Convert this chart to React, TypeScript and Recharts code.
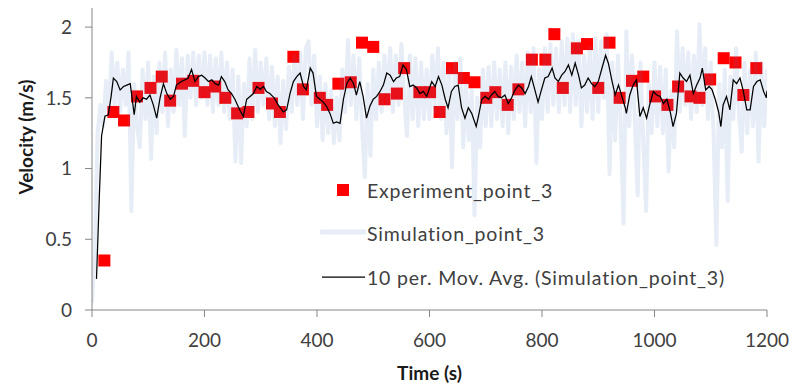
import React from "react";
import { ComposedChart, Line, Scatter, XAxis, YAxis, Legend } from "recharts";

// ---------- data ----------
const X_TICKS = [0, 200, 400, 600, 800, 1000, 1200];
const Y_TICKS = [0, 0.5, 1, 1.5, 2];

const SERIES_NAMES = [
  "Experiment_point_3",
  "Simulation_point_3",
  "10 per. Mov. Avg. (Simulation_point_3)",
];

// Experiment (red squares)
const EXP_TIME = [
  22, 38, 57, 80, 104, 124, 139, 160, 180, 200, 219, 237, 258, 278, 296, 320, 334, 358, 375, 405,
  418, 438, 460, 480, 500, 520, 542, 555, 582, 601, 618, 640, 661, 680, 701, 717, 739, 758, 782, 806,
  822, 837, 862, 880, 900, 920, 938, 960, 980, 1001, 1023, 1042, 1064, 1080, 1099, 1123, 1144, 1158, 1181,
];
const EXP_VEL = [
  0.35, 1.40, 1.34, 1.51, 1.57, 1.65, 1.48, 1.60, 1.62, 1.54, 1.58, 1.50, 1.39, 1.40, 1.57, 1.46, 1.40, 1.79, 1.56, 1.50,
  1.45, 1.60, 1.61, 1.89, 1.86, 1.49, 1.53, 1.71, 1.54, 1.54, 1.40, 1.71, 1.64, 1.61, 1.50, 1.54, 1.45, 1.56, 1.77, 1.77,
  1.95, 1.57, 1.85, 1.88, 1.57, 1.89, 1.50, 1.62, 1.65, 1.51, 1.45, 1.58, 1.51, 1.50, 1.63, 1.78, 1.75, 1.52, 1.71,
];

// Simulation (sampled every SIM_STEP seconds starting at 0)
const SIM_STEP = 5;
const SIM_VEL = [
  0.05, 0.40, 1.25, 1.45, 1.30, 1.62, 1.40, 1.82, 1.45, 1.75,
  1.40, 1.70, 1.45, 1.82, 0.70, 1.60, 1.30, 1.15, 1.70, 1.35,
  1.75, 1.07, 1.65, 1.25, 1.75, 1.40, 1.82, 1.30, 1.70, 1.40,
  1.84, 1.45, 1.78, 1.23, 1.80, 1.50, 1.82, 1.45, 1.80, 1.50,
  1.82, 1.45, 1.80, 1.40, 1.78, 1.45, 1.82, 1.40, 1.75, 1.35,
  1.70, 1.05, 1.65, 1.04, 1.60, 1.30, 1.78, 1.35, 1.84, 1.40,
  1.75, 1.45, 1.78, 1.35, 1.72, 1.30, 1.65, 1.18, 1.62, 1.28,
  1.72, 1.40, 1.80, 1.45, 1.82, 1.35, 1.85, 1.90, 1.45, 1.80,
  1.30, 1.65, 1.20, 1.60, 1.25, 1.55, 1.18, 1.50, 1.20, 1.70,
  1.40, 1.91, 1.45, 1.80, 1.35, 1.78, 1.30, 0.94, 1.60, 1.09,
  1.70, 1.35, 1.75, 1.40, 1.80, 1.45, 1.85, 1.40, 1.80, 1.45,
  1.88, 1.50, 1.23, 1.80, 1.35, 1.78, 1.30, 1.75, 1.35, 1.70,
  1.35, 1.80, 1.40, 1.85, 1.35, 1.75, 1.25, 1.70, 1.01, 1.75,
  1.35, 1.78, 1.15, 1.60, 1.20, 1.55, 0.67, 1.50, 1.15, 1.70,
  1.30, 1.72, 1.30, 1.75, 1.35, 1.70, 1.30, 1.75, 1.25, 1.72,
  1.35, 1.80, 1.40, 1.75, 1.30, 1.82, 1.40, 1.85, 1.04, 1.70,
  1.35, 1.85, 1.40, 1.88, 1.45, 1.85, 1.40, 1.90, 1.45, 1.92,
  1.40, 1.95, 1.45, 1.90, 1.30, 1.80, 1.40, 1.85, 1.35, 1.92,
  1.40, 1.90, 1.50, 1.95, 0.96, 1.75, 1.20, 1.80, 1.30, 0.61,
  1.97, 1.30, 1.80, 1.35, 0.81, 1.75, 1.20, 0.70, 1.60, 1.25,
  1.75, 1.30, 1.72, 1.25, 1.70, 0.98, 1.55, 1.15, 1.97, 1.40,
  1.85, 1.45, 1.82, 1.35, 1.80, 1.40, 2.02, 1.45, 1.85, 1.35,
  1.75, 1.25, 0.46, 1.60, 1.15, 1.70, 0.77, 1.65, 1.35, 1.85,
  1.40, 1.12, 1.75, 1.25, 1.70, 1.30, 1.82, 1.05, 1.75, 1.30,
  1.70,
];

// 10-period moving average (black line)
const MA_TIME = [
  8, 13, 17, 23, 29, 34, 38, 44, 50, 56, 62, 68, 75, 79, 85, 91, 97, 103, 109, 115,
  121, 127, 133, 139, 145, 150, 159, 165, 171, 177, 183, 189, 195, 201, 207, 213, 219, 225, 230, 236,
  242, 248, 254, 262, 269, 275, 281, 287, 293, 299, 305, 310, 316, 324, 331, 340, 346, 352, 358, 364,
  370, 376, 381, 388, 393, 399, 405, 411, 417, 423, 429, 435, 441, 447, 453, 459, 465, 470, 476, 482,
  488, 494, 500, 506, 512, 518, 524, 530, 536, 541, 547, 553, 559, 565, 571, 577, 583, 589, 595, 601,
  604, 610, 616, 622, 628, 633, 639, 645, 651, 657, 663, 669, 675, 683, 687, 693, 699, 705, 710, 716,
  722, 728, 734, 740, 746, 752, 758, 764, 770, 776, 781, 788, 793, 799, 805, 811, 818, 823, 829, 835,
  841, 847, 853, 859, 865, 870, 876, 882, 888, 894, 900, 906, 913, 918, 924, 930, 936, 942, 948, 950,
  956, 962, 968, 974, 980, 986, 992, 998, 1004, 1010, 1016, 1022, 1028, 1033, 1039, 1045, 1051, 1057, 1063, 1069,
  1075, 1081, 1085, 1091, 1097, 1102, 1108, 1114, 1118, 1122, 1128, 1134, 1140, 1146, 1152, 1158, 1164, 1170, 1176, 1182,
  1188, 1194, 1199, 1200,
];
const MA_VEL = [
  0.22, 0.80, 1.23, 1.37, 1.38, 1.51, 1.64, 1.615, 1.556, 1.58, 1.59, 1.60, 1.38, 1.51, 1.47, 1.50, 1.49, 1.52, 1.45, 1.356,
  1.50, 1.60, 1.53, 1.49, 1.51, 1.59, 1.615, 1.627, 1.64, 1.70, 1.615, 1.65, 1.66, 1.64, 1.615, 1.627, 1.60, 1.59, 1.65, 1.615,
  1.556, 1.53, 1.49, 1.42, 1.368, 1.49, 1.51, 1.53, 1.58, 1.56, 1.58, 1.545, 1.53, 1.50, 1.45, 1.40, 1.415, 1.53, 1.615, 1.65,
  1.675, 1.58, 1.556, 1.71, 1.675, 1.51, 1.49, 1.47, 1.44, 1.39, 1.32, 1.33, 1.32, 1.49, 1.60, 1.64, 1.60, 1.52, 1.615, 1.51,
  1.356, 1.44, 1.49, 1.51, 1.545, 1.59, 1.675, 1.66, 1.615, 1.64, 1.65, 1.733, 1.70, 1.58, 1.59, 1.57, 1.53, 1.545, 1.51, 1.58,
  1.615, 1.58, 1.65, 1.59, 1.49, 1.43, 1.545, 1.58, 1.59, 1.43, 1.356, 1.43, 1.39, 1.297, 1.368, 1.49, 1.51, 1.49, 1.52, 1.545,
  1.51, 1.50, 1.52, 1.46, 1.50, 1.556, 1.59, 1.57, 1.53, 1.58, 1.65, 1.545, 1.47, 1.556, 1.64, 1.65, 1.71, 1.64, 1.615, 1.66,
  1.686, 1.733, 1.66, 1.745, 1.66, 1.57, 1.59, 1.64, 1.60, 1.58, 1.615, 1.70, 1.80, 1.745, 1.627, 1.52, 1.59, 1.51, 1.43, 1.39,
  1.52, 1.59, 1.627, 1.368, 1.43, 1.356, 1.46, 1.545, 1.52, 1.51, 1.46, 1.49, 1.40, 1.297, 1.39, 1.675, 1.64, 1.615, 1.66, 1.53,
  1.59, 1.64, 1.71, 1.556, 1.58, 1.56, 1.49, 1.40, 1.297, 1.45, 1.51, 1.415, 1.627, 1.60, 1.64, 1.545, 1.415, 1.415, 1.58, 1.615,
  1.627, 1.545, 1.50, 1.55,
];

// ---------- derived tables ----------
const expData = EXP_TIME.map((t, i) => ({ t, v: EXP_VEL[i] }));
const simData = SIM_VEL.map((v, i) => ({ t: i * SIM_STEP, v }));
const maData = MA_TIME.map((t, i) => ({ t, v: MA_VEL[i] }));

const FONT = "Lato, 'Open Sans', sans-serif";
const AXIS_COLOR = "#868686";
const TEXT_COLOR = "#404040";
const RED = "#ff0000";
const SIM_COLOR = "#4f81bd";
const SIM_OPACITY = 0.14;

const SquareShape = (props: any) => {
  const { cx, cy } = props;
  if (cx == null || cy == null) return null;
  return <rect x={cx - 6} y={cy - 6} width={12} height={12} fill={RED} />;
};

const LegendContent = () => {
  const rowStyle: React.CSSProperties = {
    position: "absolute",
    left: 0,
    height: 30,
    display: "flex",
    alignItems: "center",
    whiteSpace: "nowrap",
  };
  const textStyle: React.CSSProperties = {
    fontFamily: FONT,
    fontSize: 19.5,
    letterSpacing: 0.8,
    color: TEXT_COLOR,
    marginLeft: 1,
  };
  return (
    <div style={{ position: "relative", width: 440, height: 130 }}>
      <div style={{ ...rowStyle, top: 0 }}>
        <svg width={46} height={30}>
          <rect x={17} y={9} width={12} height={12} fill={RED} />
        </svg>
        <span style={textStyle}>{SERIES_NAMES[0]}</span>
      </div>
      <div style={{ ...rowStyle, top: 43 }}>
        <svg width={46} height={30}>
          <line x1={1} x2={45} y1={14} y2={14} stroke={SIM_COLOR} strokeOpacity={SIM_OPACITY} strokeWidth={5} strokeLinecap="round" />
        </svg>
        <span style={textStyle}>{SERIES_NAMES[1]}</span>
      </div>
      <div style={{ ...rowStyle, top: 87 }}>
        <svg width={46} height={30}>
          <line x1={2} x2={45} y1={15} y2={15} stroke="#000" strokeWidth={1.25} />
        </svg>
        <span style={textStyle}>{SERIES_NAMES[2]}</span>
      </div>
    </div>
  );
};

export default function App() {
  return (
    <div>
      <style>{"body{margin:0;overflow:hidden;}"}</style>
      <ComposedChart
        width={799}
        height={387}
        margin={{ top: 8, right: 32, bottom: 0, left: 0 }}
        style={{ fontFamily: FONT }}
      >
        <XAxis
          dataKey="t"
          type="number"
          domain={[0, 1200]}
          ticks={X_TICKS}
          allowDataOverflow
          height={77}
          axisLine={{ stroke: AXIS_COLOR, strokeWidth: 1 }}
          tickLine={{ stroke: AXIS_COLOR }}
          tickSize={7}
          tickMargin={17}
          tick={{ fill: TEXT_COLOR, fontSize: 19, fontFamily: FONT }}
          label={{
            value: "Time (s)",
            position: "insideBottom",
            offset: 7,
            style: { fill: "#1a1a1a", fontSize: 19, fontWeight: 700, fontFamily: FONT },
          }}
        />
        <YAxis
          dataKey="v"
          type="number"
          domain={[0, 2.135]}
          ticks={Y_TICKS}
          allowDataOverflow
          width={92}
          axisLine={{ stroke: AXIS_COLOR, strokeWidth: 1 }}
          tickLine={{ stroke: AXIS_COLOR }}
          tickSize={7}
          tickMargin={13}
          tick={{ fill: TEXT_COLOR, fontSize: 19, fontFamily: FONT }}
          label={{
            content: () => (
              <text
                x={25}
                y={137}
                transform="rotate(-90 25 137)"
                textAnchor="middle"
                dominantBaseline="central"
                fill="#1a1a1a"
                fontSize={19}
                fontWeight={700}
                fontFamily={FONT}
              >
                Velocity (m/s)
              </text>
            ),
          }}
        />
        <Scatter
          name={SERIES_NAMES[0]}
          data={expData}
          dataKey="v"
          shape={<SquareShape />}
          isAnimationActive={false}
          zIndex={300}
        />
        <Line
          name={SERIES_NAMES[1]}
          data={simData}
          dataKey="v"
          type="linear"
          stroke={SIM_COLOR}
          strokeOpacity={SIM_OPACITY}
          strokeWidth={4}
          strokeLinejoin="round"
          dot={false}
          activeDot={false}
          isAnimationActive={false}
          zIndex={400}
        />
        <Line
          name={SERIES_NAMES[2]}
          data={maData}
          dataKey="v"
          type="linear"
          stroke="#000000"
          strokeWidth={1.25}
          dot={false}
          activeDot={false}
          isAnimationActive={false}
          zIndex={410}
        />
        <Legend
          layout="vertical"
          align="center"
          verticalAlign="middle"
          content={<LegendContent />}
          wrapperStyle={{ left: 320, top: 175, width: 440, height: 130 }}
        />
      </ComposedChart>
    </div>
  );
}
